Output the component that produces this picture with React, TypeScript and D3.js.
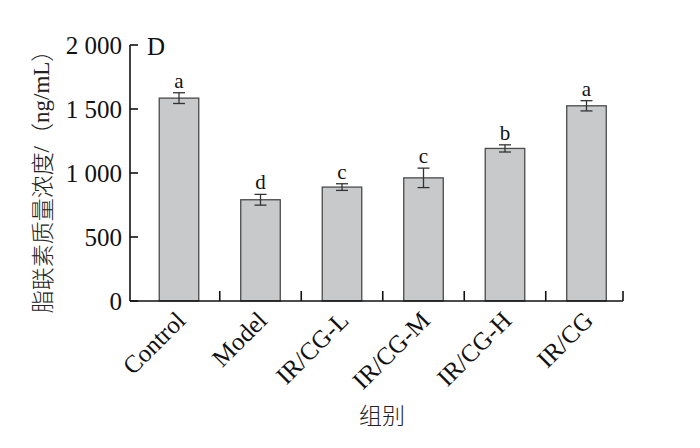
import React from "react";
import * as d3 from "d3";

const categories = ["Control", "Model", "IR/CG-L", "IR/CG-M", "IR/CG-H", "IR/CG"];
const means = [1585, 791, 890, 962, 1192, 1525];
const errors = [42, 42, 26, 76, 28, 40];
const letters = ["a", "d", "c", "c", "b", "a"];
const yTicks = [0, 500, 1000, 1500, 2000];
const yTickLabels = ["0", "500", "1 000", "1 500", "2 000"];
const yTitleCn = "脂联素质量浓度";
const yTitleUnit = "ng/mL";
const xTitle = "组别";
const panel = "D";

const W = 700, H = 448;
const axisX = 130, axisEnd = 623;
const serif = "'Liberation Serif', 'Times New Roman', serif";
const cjk = "'Noto Sans CJK SC', sans-serif";

export default function App() {
  const x = d3.scaleBand<string>().domain(categories).range([138.25, 627.25]).paddingInner(0.515).paddingOuter(0.2575);
  const y = d3.scaleLinear().domain([0, 2000]).range([301, 45]);
  const bw = x.bandwidth();
  const step = x.step();
  const tickXs = categories.slice(0, -1).map((c) => (x(c) as number) + bw / 2 + step / 2);
  return (
    <svg width={W} height={H} style={{ position: "absolute", left: 0, top: 0, background: "#fff" }}>
      {categories.map((c, i) => {
        const cx = (x(c) as number) + bw / 2;
        const top = y(means[i] + errors[i]);
        const bot = y(means[i] - errors[i]);
        const ax = cx + 8, ay = 322;
        return (
          <g key={c}>
            <rect x={x(c)} y={y(means[i])} width={bw} height={y(0) - y(means[i])} fill="#c8c9cb" stroke="#4a4a4a" strokeWidth={1.3} />
            <line x1={cx} x2={cx} y1={top} y2={bot} stroke="#333" strokeWidth={1.3} />
            <line x1={cx - 6} x2={cx + 6} y1={top} y2={top} stroke="#333" strokeWidth={1.3} />
            <line x1={cx - 6} x2={cx + 6} y1={bot} y2={bot} stroke="#333" strokeWidth={1.3} />
            <text x={cx} y={top - 5} textAnchor="middle" fontFamily={serif} fontSize={21} fill="#111">{letters[i]}</text>
            <text x={ax} y={ay} textAnchor="end" transform={`rotate(-45 ${ax} ${ay})`} fontFamily={serif} fontSize={25} fill="#111">{c}</text>
          </g>
        );
      })}
      <line x1={axisX} x2={axisX} y1={y(2000)} y2={y(0)} stroke="#111" strokeWidth={1.6} />
      <line x1={axisX} x2={axisEnd} y1={y(0)} y2={y(0)} stroke="#111" strokeWidth={1.6} />
      {yTicks.map((t, i) => (
        <g key={t}>
          <line x1={axisX} x2={axisX + 8} y1={y(t)} y2={y(t)} stroke="#111" strokeWidth={1.6} />
          <text x={122} y={y(t)} dy="0.35em" textAnchor="end" fontFamily={serif} fontSize={25} fill="#111">{yTickLabels[i]}</text>
        </g>
      ))}
      {[...tickXs, axisEnd].map((tx, i) => (
        <line key={i} x1={tx} x2={tx} y1={y(0)} y2={y(0) - 10} stroke="#111" strokeWidth={1.6} />
      ))}
      <text x={147} y={55} fontFamily={serif} fontSize={25} fill="#111">{panel}</text>
      <text transform={`translate(41 ${176}) rotate(-90)`} textAnchor="middle" dominantBaseline="central" fontSize={23} fill="#222">
        <tspan fontFamily={cjk} fontWeight={300}>{yTitleCn}</tspan>
        <tspan fontFamily={serif}>/</tspan>
        <tspan fontFamily={cjk} fontWeight={300}>（</tspan>
        <tspan fontFamily={serif}>{yTitleUnit}</tspan>
        <tspan fontFamily={cjk} fontWeight={300}>）</tspan>
      </text>
      <text x={382} y={424} textAnchor="middle" fontFamily={cjk} fontWeight={300} fontSize={23} fill="#222">{xTitle}</text>
    </svg>
  );
}
